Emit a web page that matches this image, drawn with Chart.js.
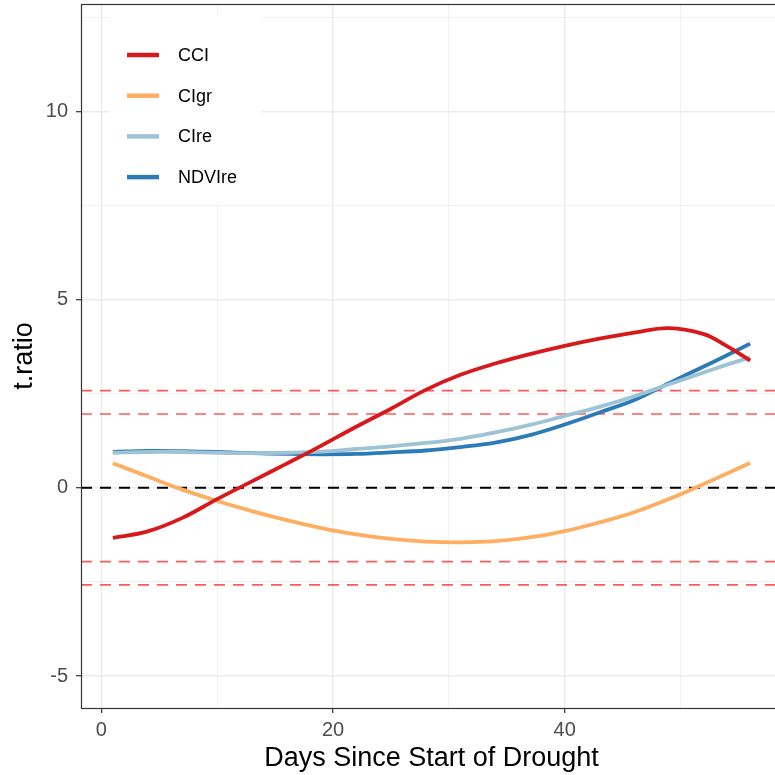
<!DOCTYPE html>
<html>
<head>
<meta charset="utf-8">
<script src="https://cdn.jsdelivr.net/npm/chart.js@4.4.1/dist/chart.umd.min.js"></script>
<style>
  html, body { margin: 0; padding: 0; background: #fff; overflow: hidden; }
  #wrap { width: 782px; height: 775px; }
</style>
</head>
<body>
<div id="wrap"><canvas id="chart" width="782" height="775"></canvas></div>
<script>
// smoothed t-ratio per index, sampled along the drought days
const days   = [1, 4, 7, 10, 13, 16, 19, 22, 25, 28, 31, 34, 37, 40, 43, 46, 49, 52, 54, 56];
const cci    = [-1.33, -1.16, -0.80, -0.30, 0.17, 0.64, 1.12, 1.62, 2.10, 2.60, 3.00, 3.30, 3.55, 3.77, 3.96, 4.12, 4.24, 4.08, 3.76, 3.38];
const cigr   = [0.65, 0.30, -0.05, -0.35, -0.62, -0.86, -1.07, -1.24, -1.36, -1.43, -1.45, -1.42, -1.32, -1.15, -0.92, -0.65, -0.30, 0.10, 0.38, 0.66];
const cire   = [0.93, 0.95, 0.95, 0.93, 0.92, 0.93, 0.96, 1.03, 1.10, 1.19, 1.30, 1.47, 1.67, 1.91, 2.15, 2.43, 2.75, 3.06, 3.27, 3.46];
const ndvire = [0.95, 0.98, 0.97, 0.95, 0.92, 0.90, 0.89, 0.90, 0.94, 0.99, 1.08, 1.20, 1.40, 1.68, 2.00, 2.33, 2.78, 3.22, 3.52, 3.83];

const seriesNames  = ['CCI', 'CIgr', 'CIre', 'NDVIre'];
const seriesValues = [cci, cigr, cire, ndvire];
const seriesColors = ['#d7191c', '#fdae61', '#9dc3d5', '#2c7bb6'];

// significance thresholds (red) and zero line (black)
const critLines = [1.96, -1.96, 2.58, -2.58];
const zeroLine = 0;

const xLimits = [-1.75, 58.75];
const yLimits = [-5.85, 12.85];
const xMajorStep = 20, xMinorStep = 10;
const yMajorStep = 5, yMinorStep = 2.5;

const FONT = '"Liberation Sans", Arial, sans-serif';
Chart.defaults.font.family = FONT;

const isMajor = (v, step) => Math.abs(v / step - Math.round(v / step)) < 1e-6;

const refLines = {
  id: 'refLines',
  beforeDatasetsDraw(chart) {
    const { ctx, chartArea: a, scales: { y } } = chart;
    ctx.save();
    ctx.setLineDash([11, 8]);
    ctx.lineWidth = 1.7;
    ctx.strokeStyle = 'rgba(255, 0, 0, 0.65)';
    critLines.forEach(v => {
      const py = y.getPixelForValue(v);
      ctx.beginPath();
      ctx.moveTo(a.left, py);
      ctx.lineTo(a.right, py);
      ctx.stroke();
    });
    ctx.lineWidth = 2;
    ctx.strokeStyle = '#000';
    const pz = y.getPixelForValue(zeroLine);
    ctx.beginPath();
    ctx.moveTo(a.left, pz);
    ctx.lineTo(a.right, pz);
    ctx.stroke();
    ctx.restore();
  }
};

const panelLegend = {
  id: 'panelLegend',
  afterDatasetsDraw(chart) {
    const { ctx, chartArea: a } = chart;
    ctx.save();
    ctx.fillStyle = '#fff';
    ctx.fillRect(a.left + 28, a.top + 11, 153, 189);
    ctx.lineCap = 'butt';
    ctx.font = '18px ' + FONT;
    ctx.textBaseline = 'middle';
    chart.data.datasets.forEach((ds, i) => {
      const yy = a.top + 51 + i * 40.7;
      ctx.strokeStyle = ds.borderColor;
      ctx.lineWidth = 4.5;
      ctx.beginPath();
      ctx.moveTo(a.left + 46, yy);
      ctx.lineTo(a.left + 78, yy);
      ctx.stroke();
      ctx.fillStyle = '#000';
      ctx.fillText(ds.label, a.left + 97, yy + 1);
    });
    // panel border
    ctx.strokeStyle = '#333';
    ctx.lineWidth = 1.2;
    ctx.strokeRect(a.left + 0.5, a.top + 0.5, a.right - a.left, a.bottom - a.top);
    ctx.restore();
  }
};

const datasets = seriesNames.map((name, i) => ({
  label: name,
  data: days.map((d, k) => ({ x: d, y: seriesValues[i][k] })),
  borderColor: seriesColors[i],
  borderWidth: 3.8,
  pointRadius: 0,
  fill: false,
  tension: 0.4
}));

new Chart(document.getElementById('chart'), {
  type: 'line',
  data: { datasets },
  plugins: [refLines, panelLegend],
  options: {
    responsive: false,
    animation: false,
    events: [],
    layout: { padding: { top: 4, right: 0, bottom: 0, left: 0 } },
    plugins: { legend: { display: false }, tooltip: { enabled: false } },
    scales: {
      x: {
        type: 'linear',
        min: xLimits[0],
        max: xLimits[1],
        afterFit: s => { s.height = 67; s.paddingLeft = 0; s.paddingRight = 0; },
        border: { display: false },
        grid: {
          color: '#ebebeb',
          lineWidth: c => isMajor(c.tick.value, xMajorStep) ? 1.4 : 0.7,
          tickLength: 5,
          tickColor: c => isMajor(c.tick.value, xMajorStep) ? '#333' : 'rgba(0,0,0,0)',
          tickWidth: 1.2
        },
        ticks: {
          stepSize: xMinorStep,
          includeBounds: false,
          autoSkip: false,
          maxRotation: 0,
          padding: 5,
          color: '#4d4d4d',
          font: { size: 20 },
          callback: v => isMajor(v, xMajorStep) ? String(v) : ''
        },
        title: {
          display: true,
          text: 'Days Since Start of Drought',
          color: '#000',
          font: { size: 27 },
          padding: { top: 0, bottom: 0 }
        }
      },
      y: {
        type: 'linear',
        min: yLimits[0],
        max: yLimits[1],
        afterFit: s => { s.width = 81; s.paddingTop = 0; s.paddingBottom = 0; },
        border: { display: false },
        grid: {
          color: '#ebebeb',
          lineWidth: c => isMajor(c.tick.value, yMajorStep) ? 1.4 : 0.7,
          tickLength: 5,
          tickColor: c => isMajor(c.tick.value, yMajorStep) ? '#333' : 'rgba(0,0,0,0)',
          tickWidth: 1.2
        },
        ticks: {
          stepSize: yMinorStep,
          includeBounds: false,
          autoSkip: false,
          padding: 8,
          color: '#4d4d4d',
          font: { size: 20 },
          callback: v => isMajor(v, yMajorStep) ? String(v) : ''
        },
        title: {
          display: true,
          text: 't.ratio',
          color: '#000',
          font: { size: 27 },
          padding: { top: 8, bottom: 0 }
        }
      }
    }
  }
});
</script>
</body>
</html>
